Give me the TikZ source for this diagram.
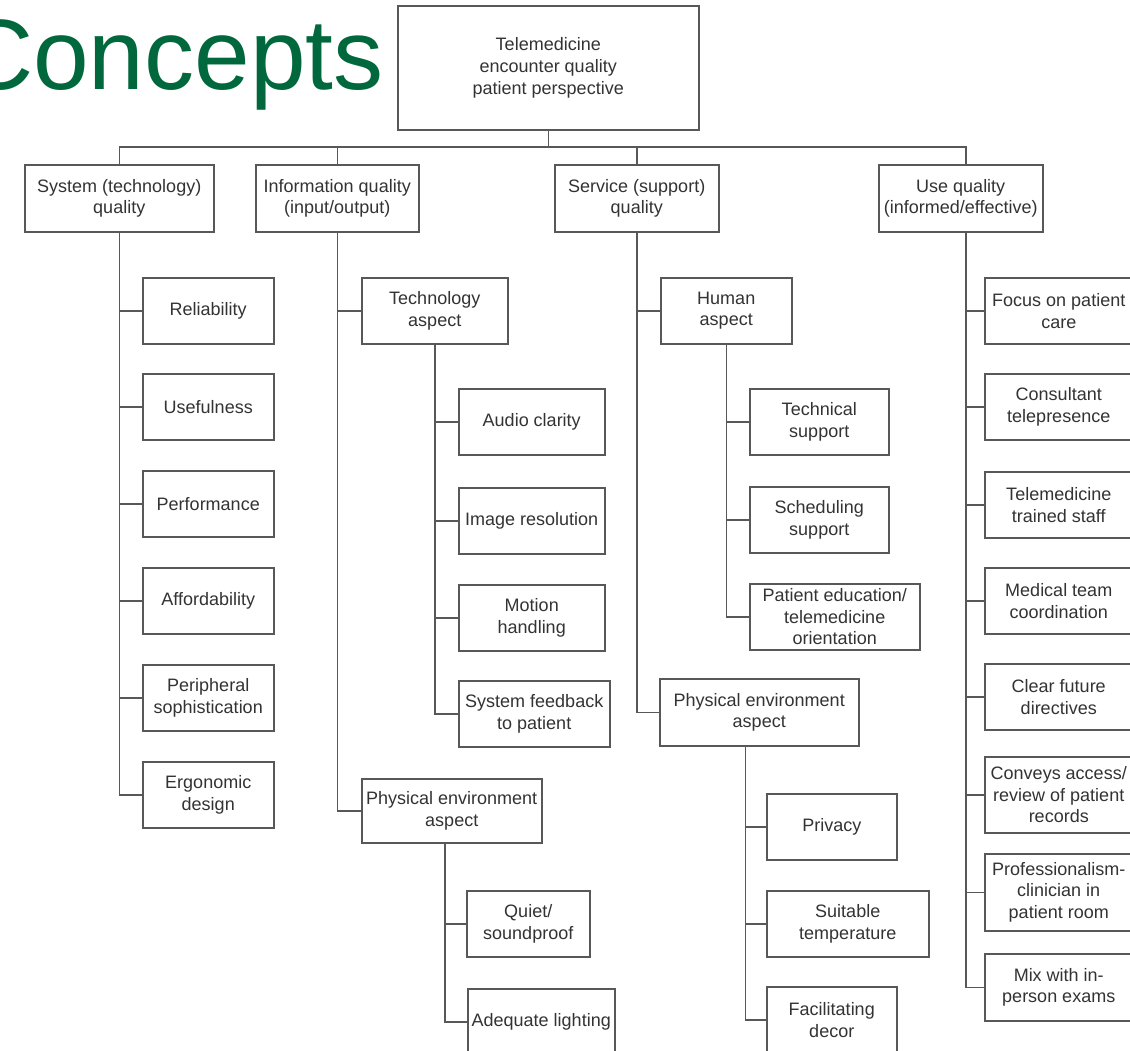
\documentclass[tikz,border=0pt]{standalone}
\usepackage{fontspec}
\setmainfont{Liberation Sans}
\definecolor{titlegreen}{RGB}{0,104,60}
\definecolor{linegray}{RGB}{88,88,88}
\definecolor{textgray}{RGB}{51,51,51}
\begin{document}
\begin{tikzpicture}[x=1pt, y=-1pt,
        box/.style={draw=linegray, line width=1.5pt, anchor=north west, align=center,
            inner sep=0pt, text=textgray, font=\fontsize{18}{21.7}\selectfont},
        link/.style={draw=linegray, line width=1.5pt},
        title/.style={anchor=base west, inner sep=0pt, text=titlegreen, font=\fontsize{100}{110}\selectfont}]
        \clip (0,0) rectangle (1130,1050);
        \fill[white] (0,0) rectangle (1130,1050);

        \node[title] (ttl) at (-39,89) {Concepts};

        % root and first level
        \node[box, minimum width=301, minimum height=124] (root) at (397,5) {Telemedicine\\encounter quality\\patient perspective};
        \node[box, minimum width=189, minimum height=67] (sys) at (24,164) {System (technology)\\quality};
        \node[box, minimum width=163, minimum height=67] (info) at (255,164) {Information quality\\(input/output)};
        \node[box, minimum width=164, minimum height=67] (serv) at (554,164) {Service (support)\\quality};
        \node[box, minimum width=164, minimum height=67] (use) at (878,164) {Use quality\\(informed/effective)};

        \coordinate (bus) at (0,147);
        \draw[link] (root.south) -- (root.south |- bus);
        \draw[link] (sys.north) |- (root.south |- bus) -| ([xshift=5]use.north);
        \draw[link] (info.north) -- (info.north |- bus);
        \draw[link] (serv.north) -- (serv.north |- bus);

        % system quality
        \node[box, minimum width=131, minimum height=66] (rel) at (142,277) {Reliability};
        \node[box, minimum width=131, minimum height=66] (usef) at (142,373) {Usefulness};
        \node[box, minimum width=131, minimum height=66] (perf) at (142,470) {Performance};
        \node[box, minimum width=131, minimum height=66] (afford) at (142,567) {Affordability};
        \node[box, minimum width=131, minimum height=66] (periph) at (142,664) {Peripheral\\sophistication};
        \node[box, minimum width=131, minimum height=66] (ergo) at (142,761) {Ergonomic\\design};
        \draw[link] (sys.south) |- (rel.west) (sys.south) |- (usef.west) (sys.south) |- (perf.west)
            (sys.south) |- (afford.west) (sys.south) |- (periph.west) (sys.south) |- (ergo.west);

        % information quality
        \node[box, minimum width=146, minimum height=66] (tech) at (361,277) {Technology\\aspect};
        \node[box, minimum width=180, minimum height=64] (penvi) at (361,778) {Physical environment\\aspect};
        \draw[link] (info.south) |- (tech.west) (info.south) |- (penvi.west);

        \node[box, minimum width=146, minimum height=66] (audio) at (458,388) {Audio clarity};
        \node[box, minimum width=146, minimum height=66] (imgres) at (458,487) {Image resolution};
        \node[box, minimum width=146, minimum height=66] (motion) at (458,584) {Motion\\handling};
        \node[box, minimum width=151, minimum height=66] (feedb) at (458,680) {System feedback\\to patient};
        \draw[link] (tech.south) |- (audio.west) (tech.south) |- (imgres.west)
            (tech.south) |- (motion.west) (tech.south) |- (feedb.west);

        \node[box, minimum width=123, minimum height=66] (quiet) at (466,890) {Quiet/\\soundproof};
        \node[box, minimum width=147, minimum height=66] (light) at (467,988) {Adequate lighting};
        \draw[link] ([xshift=-7]penvi.south) |- (quiet.west) ([xshift=-7]penvi.south) |- (light.west);

        % service quality
        \node[box, minimum width=131, minimum height=66] (human) at (660,277) {Human\\aspect};
        \node[box, minimum width=199, minimum height=67] (penvs) at (659,678) {Physical environment\\aspect};
        \draw[link] (serv.south) |- (human.west) (serv.south) |- (penvs.west);

        \node[box, minimum width=139, minimum height=66] (techsup) at (749,388) {Technical\\support};
        \node[box, minimum width=139, minimum height=66] (sched) at (749,486) {Scheduling\\support};
        \node[box, minimum width=170, minimum height=66] (educ) at (749,583) {Patient education/\\telemedicine\\orientation};
        \draw[link] (human.south) |- (techsup.west) (human.south) |- (sched.west) (human.south) |- (educ.west);

        \node[box, minimum width=130, minimum height=66] (priv) at (766,793) {Privacy};
        \node[box, minimum width=162, minimum height=66] (temp) at (766,890) {Suitable\\temperature};
        \node[box, minimum width=130, minimum height=66] (decor) at (766,986) {Facilitating\\decor};
        \draw[link] ([xshift=-14]penvs.south) |- (priv.west) ([xshift=-14]penvs.south) |- (temp.west)
            ([xshift=-14]penvs.south) |- (decor.west);

        % use quality
        \node[box, minimum width=148, minimum height=66] (focus) at (984,277) {Focus on patient\\care};
        \node[box, minimum width=148, minimum height=66] (consult) at (984,373) {Consultant\\telepresence};
        \node[box, minimum width=148, minimum height=66] (trained) at (984,471) {Telemedicine\\trained staff};
        \node[box, minimum width=148, minimum height=66] (medteam) at (984,567) {Medical team\\coordination};
        \node[box, minimum width=148, minimum height=66] (future) at (984,663) {Clear future\\directives};
        \node[box, minimum width=148, minimum height=76] (records) at (984,756) {Conveys access/\\review of patient\\records};
        \node[box, minimum width=148, minimum height=77] (prof) at (984,853) {Professionalism-\\clinician in\\patient room};
        \node[box, minimum width=148, minimum height=67] (mix) at (984,953) {Mix with in-\\person exams};
        \draw[link] ([xshift=5]use.south) |- (focus.west) ([xshift=5]use.south) |- (consult.west)
            ([xshift=5]use.south) |- (trained.west) ([xshift=5]use.south) |- (medteam.west)
            ([xshift=5]use.south) |- (future.west) ([xshift=5]use.south) |- (records.west)
            ([xshift=5]use.south) |- (prof.west) ([xshift=5]use.south) |- (mix.west);
    \end{tikzpicture}
\end{document}
